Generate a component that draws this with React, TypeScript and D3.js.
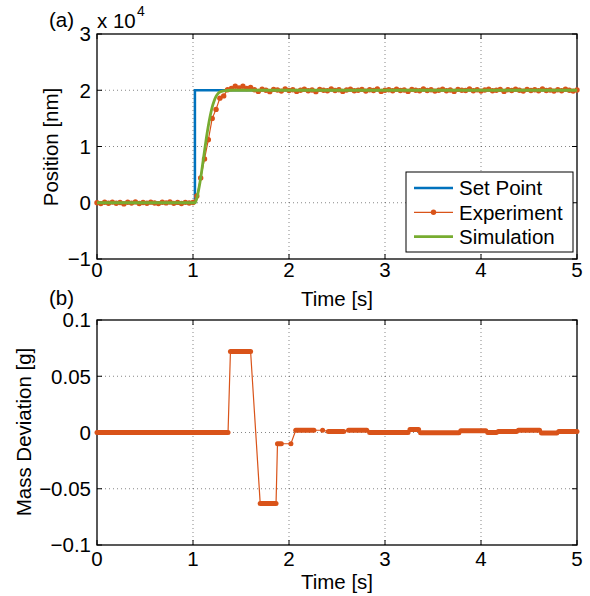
import * as d3 from 'd3';

// time axis
const timeTicks = [0, 1, 2, 3, 4, 5];
const posTicks = [-1e4, 0, 1e4, 2e4, 3e4];
const posTickLabels = ['\u22121', '0', '1', '2', '3'];
const massTicks = [-0.1, -0.05, 0, 0.05, 0.1];
const massTickLabels = ['\u22120.1', '\u22120.05', '0', '0.05', '0.1'];

// set point (nm)
const setTime = [0, 1.02, 1.02, 5];
const setValue = [0, 0, 20000, 20000];

// experiment, sampled every 0.04 s (nm)
const expStep = 0.04;
const expValue = [
  0, -150, 100, -80, 120, -100, 50, -200, 80, -60, 150, -120, 40, -90, 110, -50, -150, 90, -30, 130, -110, 60, -140, 70, -40,
  50, 1200, 4400, 7800, 11200, 15000, 16600, 18600, 19000, 20100, 20300, 20700, 20400, 20700, 20300, 20500,
  20100, 19800, 20200, 20000, 19750, 20150, 20050, 19850, 20250, 19950,
  20100, 19800, 20000, 20200, 19900, 20050, 19750, 20150, 20000, 19900,
  20250, 19950, 20100, 19800, 20050, 20200, 19900, 20000, 20150, 19850,
  20100, 19950, 20250, 19800, 20000, 20100, 19900, 20200, 19950, 20050,
  19800, 20150, 20000, 19900, 20250, 19950, 20100, 19850, 20000, 20200,
  19900, 20050, 19800, 20150, 20000, 19950, 20250, 19900, 20100, 19850,
  20050, 20200, 19900, 20000, 20150, 19800, 20100, 19950, 20200, 20000,
  19850, 20150, 19950, 20100, 19900, 20250, 19950, 20050, 19850, 20100,
  19900, 20200, 20000, 19850, 20050,
];

// simulation (nm)
const simTime = [0, 1.02, 1.04, 1.06, 1.08, 1.1, 1.12, 1.14, 1.16, 1.18, 1.2, 1.22, 1.24, 1.26, 1.28, 1.32, 1.4, 5];
const simValue = [0, 0, 800, 2400, 4400, 6800, 9200, 11600, 13700, 15500, 17000, 18100, 18900, 19400, 19700, 19900, 20000, 20000];

// mass deviation runs (g): start time, end time, value
const massStart = [0, 1.39, 1.7, 1.88, 2.02, 2.07, 2.35, 2.41, 2.62, 2.84, 3.26, 3.37, 3.79, 4.07, 4.18, 4.39, 4.63, 4.81];
const massEnd = [1.365, 1.6, 1.865, 1.92, 2.02, 2.26, 2.35, 2.57, 2.81, 3.24, 3.35, 3.77, 4.05, 4.16, 4.37, 4.61, 4.79, 5];
const massValue = [0, 0.072, -0.063, -0.01, -0.01, 0.002, 0.002, 0.001, 0.002, 0, 0.0027, -0.0002, 0.0015, 0, 0.001, 0.002, -0.0005, 0.001];

const W = 590;
const H = 596;
const blue = '#0072BD';
const orange = '#D95319';
const green = '#77AC30';
const font = "'Liberation Sans', Arial, Helvetica, sans-serif";
const fs = 20.5;

const x = d3.scaleLinear().domain([0, 5]).range([97, 577]);
const yTop = d3.scaleLinear().domain([-1e4, 3e4]).range([259, 34]);
const yBot = d3.scaleLinear().domain([-0.1, 0.1]).range([545, 320]);

type Pt = [number, number];

const Frame = ({ y, yTicks, yLabels, gridY, tickDy, titleDy }: { y: d3.ScaleLinear<number, number>; yTicks: number[]; yLabels: string[]; gridY: number[]; tickDy: number; titleDy: number }) => {
  const [y0, y1] = y.range();
  const x0 = x(0), x1 = x(5);
  return (
    <g>
      {timeTicks.slice(1, -1).map(t => (
        <line key={'gx' + t} x1={x(t)} x2={x(t)} y1={y0} y2={y1} stroke="#000" strokeOpacity={0.6} strokeWidth={0.8} strokeDasharray="1,3" />
      ))}
      {gridY.map(v => (
        <line key={'gy' + v} x1={x0} x2={x1} y1={y(v)} y2={y(v)} stroke="#000" strokeOpacity={0.6} strokeWidth={0.8} strokeDasharray="1,3" />
      ))}
      {timeTicks.map(t => (
        <g key={'tx' + t}>
          <line x1={x(t)} x2={x(t)} y1={y0} y2={y0 - 5} stroke="#000" />
          <line x1={x(t)} x2={x(t)} y1={y1} y2={y1 + 5} stroke="#000" />
          <text x={x(t)} y={y0 + tickDy} textAnchor="middle" fontSize={fs} fontFamily={font}>{t}</text>
        </g>
      ))}
      {yTicks.map((v, i) => (
        <g key={'ty' + v}>
          <line x1={x0} x2={x0 + 5} y1={y(v)} y2={y(v)} stroke="#000" />
          <line x1={x1} x2={x1 - 5} y1={y(v)} y2={y(v)} stroke="#000" />
          <text x={91} y={y(v)} dy="0.36em" textAnchor="end" fontSize={fs} fontFamily={font}>{yLabels[i]}</text>
        </g>
      ))}
      <rect x={x0} y={y1} width={x1 - x0} height={y0 - y1} fill="none" stroke="#000" strokeWidth={1.3} />
      <text x={(x0 + x1) / 2} y={y0 + titleDy} textAnchor="middle" fontSize={fs} fontFamily={font}>Time [s]</text>
    </g>
  );
};

const App = () => {
  const lineTop = d3.line<Pt>().x(d => x(d[0])).y(d => yTop(d[1]));
  const simLine = d3.line<Pt>().x(d => x(d[0])).y(d => yTop(d[1])).curve(d3.curveMonotoneX);
  const lineBot = d3.line<Pt>().x(d => x(d[0])).y(d => yBot(d[1]));

  const setPts: Pt[] = setTime.map((t, i) => [t, setValue[i]]);
  const expPts: Pt[] = expValue.map((v, i) => [i * expStep, v]);
  const simPts: Pt[] = simTime.map((t, i) => [t, simValue[i]]);
  const massPts: Pt[] = [];
  massStart.forEach((s, i) => {
    massPts.push([s, massValue[i]]);
    massPts.push([massEnd[i], massValue[i]]);
  });

  return (
    <div style={{ position: 'absolute', left: 0, top: 0 }}>
      <svg width={W} height={H} style={{ display: 'block', background: '#fff' }}>
        {/* (a) position */}
        <Frame y={yTop} yTicks={posTicks} yLabels={posTickLabels} gridY={[0, 1e4, 2e4]} tickDy={18} titleDy={47} />
        <path d={lineTop(setPts) || ''} fill="none" stroke={blue} strokeWidth={2.5} />
        <path d={lineTop(expPts) || ''} fill="none" stroke={orange} strokeWidth={1.2} />
        {expPts.map((d, i) => (
          <circle key={i} cx={x(d[0])} cy={yTop(d[1])} r={2.7} fill={orange} />
        ))}
        <path d={simLine(simPts) || ''} fill="none" stroke={green} strokeWidth={2.8} />
        <text x={49} y={26.5} fontSize={fs} fontFamily={font}>(a)</text>
        <text x={97} y={28} fontSize={fs} fontFamily={font}>x 10</text>
        <text x={137} y={16} fontSize={14} fontFamily={font}>4</text>
        <text transform="translate(58,147) rotate(-90)" textAnchor="middle" fontSize={fs} fontFamily={font}>Position [nm]</text>

        <g>
          <rect x={406} y={172} width={167} height={80} fill="#fff" stroke="#000" strokeWidth={1} />
          {[['Set Point', blue, 2.5], ['Experiment', orange, 1.2], ['Simulation', green, 2.8]].map(([label, c, w], i) => {
            const ly = 188 + i * 24.3;
            return (
              <g key={label as string}>
                <line x1={414} x2={453} y1={ly} y2={ly} stroke={c as string} strokeWidth={w as number} />
                {i === 1 && <circle cx={433.5} cy={ly} r={2.7} fill={orange} />}
                <text x={459} y={ly} dy="0.36em" fontSize={fs} fontFamily={font}>{label}</text>
              </g>
            );
          })}
        </g>

        {/* (b) mass deviation */}
        <Frame y={yBot} yTicks={massTicks} yLabels={massTickLabels} gridY={[-0.05, 0, 0.05]} tickDy={21} titleDy={44} />
        <path d={lineBot(massPts) || ''} fill="none" stroke={orange} strokeWidth={1.2} />
        {massStart.map((s, i) => (
          <line key={i} x1={x(s)} x2={x(massEnd[i])} y1={yBot(massValue[i])} y2={yBot(massValue[i])} stroke={orange} strokeWidth={5} strokeLinecap="round" />
        ))}
        <text x={49} y={305} fontSize={fs} fontFamily={font}>(b)</text>
        <text transform="translate(31,432) rotate(-90)" textAnchor="middle" fontSize={fs} fontFamily={font}>Mass Deviation [g]</text>
      </svg>
    </div>
  );
};

export default App;
